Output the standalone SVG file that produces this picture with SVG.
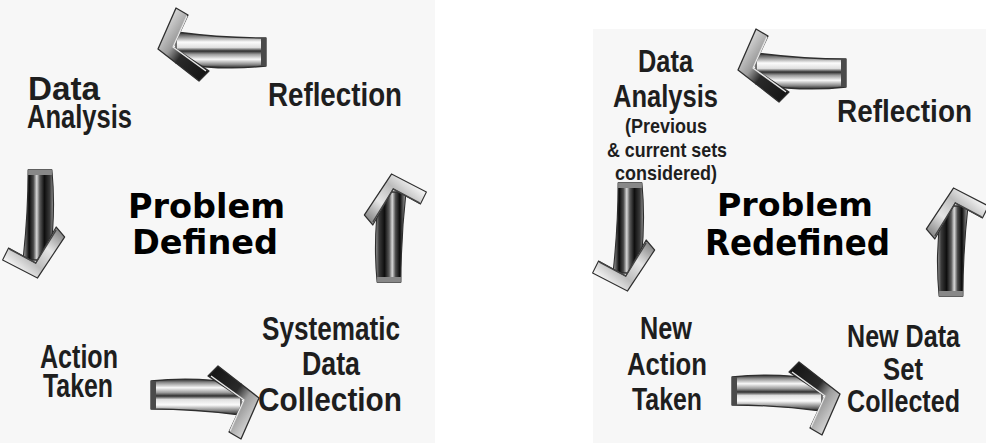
<svg xmlns="http://www.w3.org/2000/svg" width="986" height="443" viewBox="0 0 986 443">
  <defs>
    <style>
      .lbl { font-family: "Liberation Sans", Arial, sans-serif; font-weight: bold; fill: #1e1e1e; text-anchor: middle; }
      .big { font-size: 34px; }
      .mid { font-size: 31px; }
      .small { font-size: 21px; }
      .core { font-family: "DejaVu Sans", "Liberation Sans", sans-serif; font-weight: bold; fill: #000; text-anchor: middle; }
      .panel { fill: #f7f7f7; }
      .edge { stroke: #2e2e2e; stroke-width: 1.3; stroke-linejoin: round; }
    </style>
    <!-- light chrome tube for the horizontal arrows -->
    <linearGradient id="tubeLight" x1="0" y1="0" x2="0" y2="1">
      <stop offset="0" stop-color="#2a2a2a"/>
      <stop offset="0.1" stop-color="#8f8f8f"/>
      <stop offset="0.24" stop-color="#f8f8f8"/>
      <stop offset="0.38" stop-color="#9a9a9a"/>
      <stop offset="0.47" stop-color="#2e2e2e"/>
      <stop offset="0.57" stop-color="#e0e0e0"/>
      <stop offset="0.72" stop-color="#fbfbfb"/>
      <stop offset="0.87" stop-color="#8a8a8a"/>
      <stop offset="1" stop-color="#262626"/>
    </linearGradient>
    <!-- darker tube for the vertical arrows -->
    <linearGradient id="tubeDark" x1="0" y1="0" x2="0" y2="1">
      <stop offset="0" stop-color="#9a9a9a"/>
      <stop offset="0.12" stop-color="#3a3a3a"/>
      <stop offset="0.3" stop-color="#0e0e0e"/>
      <stop offset="0.45" stop-color="#5a5a5a"/>
      <stop offset="0.55" stop-color="#d8d8d8"/>
      <stop offset="0.66" stop-color="#4a4a4a"/>
      <stop offset="0.8" stop-color="#0a0a0a"/>
      <stop offset="0.92" stop-color="#6a6a6a"/>
      <stop offset="1" stop-color="#bdbdbd"/>
    </linearGradient>
    <linearGradient id="headDark" x1="0" y1="0" x2="1" y2="1">
      <stop offset="0" stop-color="#111"/>
      <stop offset="0.45" stop-color="#2a2a2a"/>
      <stop offset="0.6" stop-color="#9a9a9a"/>
      <stop offset="0.8" stop-color="#d0d0d0"/>
      <stop offset="1" stop-color="#3a3a3a"/>
    </linearGradient>
    <linearGradient id="headLight" x1="0" y1="0" x2="1" y2="1">
      <stop offset="0" stop-color="#6a6a6a"/>
      <stop offset="0.35" stop-color="#e6e6e6"/>
      <stop offset="0.6" stop-color="#bcbcbc"/>
      <stop offset="0.8" stop-color="#f2f2f2"/>
      <stop offset="1" stop-color="#5a5a5a"/>
    </linearGradient>
    <!-- arrow pointing right, origin at the middle of the shaft tail -->
    <g id="arrowH">
      <path class="edge" d="M0,-14 Q44,-19 90,-11 L90,20 Q44,14 0,14 Z" fill="url(#tubeLight)"/>
      <path d="M0,-14 L5,-14 L5,14 L0,14 Z" fill="#4a4a4a"/>
      <path class="edge" d="M67,-29 L108,3 L90,44 L78,37 L93,5 L57,-19 Z" fill="url(#headDark)"/>
      <path d="M60,-19 L93,5 L79,36" fill="none" stroke="#e6e6e6" stroke-width="1.5"/>
    </g>
    <g id="arrowV">
      <path class="edge" d="M0,-14 Q44,-19 90,-11 L90,20 Q44,14 0,14 Z" fill="url(#tubeDark)"/>
      <path d="M0,-14 L5,-14 L5,14 L0,14 Z" fill="#888"/>
      <path class="edge" d="M67,-29 L108,3 L90,44 L78,37 L93,5 L57,-19 Z" fill="url(#headLight)"/>
      <path d="M60,-19 L93,5 L79,36" fill="none" stroke="#444" stroke-width="1.5"/>
    </g>
    <g id="arrowLeft"><use href="#arrowH" transform="translate(266,52) rotate(180)"/></g>
    <g id="arrowDown"><use href="#arrowV" transform="translate(40,170) scale(0.85,1) rotate(90)"/></g>
    <g id="arrowRight"><use href="#arrowH" transform="translate(151,395)"/></g>
    <g id="arrowUp"><use href="#arrowV" transform="translate(389,282) scale(0.85,1) rotate(-90)"/></g>
  </defs>

  <rect width="986" height="443" fill="#ffffff"/>
  <rect class="panel" x="0" y="0" width="435" height="443"/>
  <rect class="panel" x="593" y="29" width="393" height="414"/>

  <!-- cycle connectors -->
  <g id="connectors">
    <use href="#arrowLeft"/>
    <use href="#arrowDown"/>
    <use href="#arrowRight"/>
    <use href="#arrowUp"/>
    <use href="#arrowLeft" transform="translate(580,21)"/>
    <use href="#arrowDown" transform="translate(590,13)"/>
    <use href="#arrowRight" transform="translate(581,-4)"/>
    <use href="#arrowUp" transform="translate(562,14)"/>
  </g>

  <!-- first cycle -->
  <g id="data-analysis">
    <text class="lbl big" x="64" y="100" textLength="72" lengthAdjust="spacingAndGlyphs">Data</text>
    <text class="lbl big" x="79.5" y="128" textLength="105" lengthAdjust="spacingAndGlyphs">Analysis</text>
  </g>
  <g id="reflection">
    <text class="lbl big" x="335" y="106" textLength="134" lengthAdjust="spacingAndGlyphs">Reflection</text>
  </g>
  <g id="problem-defined">
    <text class="core" font-size="34" x="206.5" y="218" textLength="157" lengthAdjust="spacingAndGlyphs">Problem</text>
    <text class="core" font-size="34" x="205" y="254" textLength="146" lengthAdjust="spacingAndGlyphs">Defined</text>
  </g>
  <g id="action-taken">
    <text class="lbl big" x="79" y="368" textLength="78" lengthAdjust="spacingAndGlyphs">Action</text>
    <text class="lbl big" x="78" y="397" textLength="70" lengthAdjust="spacingAndGlyphs">Taken</text>
  </g>
  <g id="systematic-data-collection">
    <text class="lbl big" x="331" y="340" textLength="138" lengthAdjust="spacingAndGlyphs">Systematic</text>
    <text class="lbl big" x="331" y="375" textLength="58" lengthAdjust="spacingAndGlyphs">Data</text>
    <text class="lbl big" x="330" y="411" textLength="144" lengthAdjust="spacingAndGlyphs">Collection</text>
  </g>

  <!-- second cycle -->
  <g id="data-analysis-2">
    <text class="lbl mid" x="665.5" y="72" textLength="55" lengthAdjust="spacingAndGlyphs">Data</text>
    <text class="lbl mid" x="665.5" y="107" textLength="105" lengthAdjust="spacingAndGlyphs">Analysis</text>
    <text class="lbl small" x="666" y="133" textLength="82" lengthAdjust="spacingAndGlyphs">(Previous</text>
    <text class="lbl small" x="667" y="157" textLength="120" lengthAdjust="spacingAndGlyphs">&amp; current sets</text>
    <text class="lbl small" x="666" y="180" textLength="102" lengthAdjust="spacingAndGlyphs">considered)</text>
  </g>
  <g id="reflection-2">
    <text class="lbl mid" x="904.5" y="122" textLength="135" lengthAdjust="spacingAndGlyphs">Reflection</text>
  </g>
  <g id="problem-redefined">
    <text class="core" font-size="32" x="795" y="216" textLength="156" lengthAdjust="spacingAndGlyphs">Problem</text>
    <text class="core" font-size="36" x="797.5" y="255" textLength="185" lengthAdjust="spacingAndGlyphs">Redefined</text>
  </g>
  <g id="new-action-taken">
    <text class="lbl mid" x="666" y="339" textLength="52" lengthAdjust="spacingAndGlyphs">New</text>
    <text class="lbl mid" x="667" y="375" textLength="80" lengthAdjust="spacingAndGlyphs">Action</text>
    <text class="lbl mid" x="667" y="410" textLength="70" lengthAdjust="spacingAndGlyphs">Taken</text>
  </g>
  <g id="new-data-set-collected">
    <text class="lbl mid" x="903.5" y="347" textLength="113" lengthAdjust="spacingAndGlyphs">New Data</text>
    <text class="lbl mid" x="903" y="380" textLength="40" lengthAdjust="spacingAndGlyphs">Set</text>
    <text class="lbl mid" x="903.5" y="412" textLength="113" lengthAdjust="spacingAndGlyphs">Collected</text>
  </g>
</svg>
